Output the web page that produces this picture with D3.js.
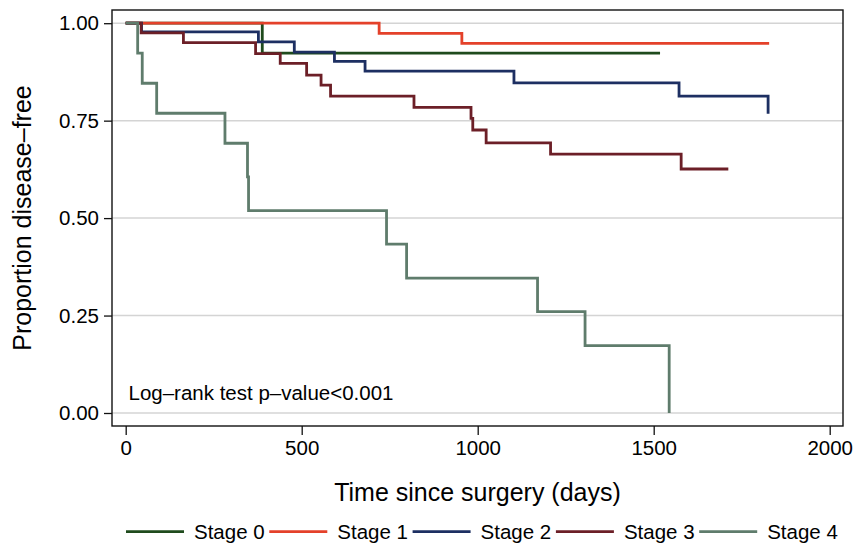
<!DOCTYPE html>
<html>
<head>
<meta charset="utf-8">
<script src="https://cdn.jsdelivr.net/npm/d3@7"></script>
<style>
  body { margin: 0; background: #fff; }
  text { font-family: "Liberation Sans", Arial, Helvetica, sans-serif; fill: #000; }
</style>
</head>
<body>
<div id="km"></div>
<script>
const width = 855
const height = 554

// Kaplan-Meier steps (day of event, proportion after it)
const stages = ["Stage 0", "Stage 1", "Stage 2", "Stage 3", "Stage 4"]

const stage0Days = [0, 388, 1518]
const stage0Surv = [1, 0.923, 0.923]

const stage1Days = [0, 720, 955, 1828]
const stage1Surv = [1, 0.974, 0.948, 0.948]

const stage2Days = [0, 45, 377, 479, 593, 680, 1103, 1572, 1825]
const stage2Surv = [1, 0.978, 0.952, 0.926, 0.902, 0.877, 0.847, 0.813, 0.768]

const stage3Days = [0, 44, 164, 369, 439, 514, 555, 582, 819, 981, 986, 1024, 1207, 1578, 1712]
const stage3Surv = [1, 0.975, 0.950, 0.922, 0.897, 0.867, 0.841, 0.813, 0.784, 0.756, 0.726, 0.693, 0.664, 0.626, 0.626]

const stage4Days = [0, 34, 47, 88, 282, 346, 349, 741, 798, 1170, 1305, 1544]
const stage4Surv = [1, 0.923, 0.846, 0.769, 0.692, 0.606, 0.519, 0.433, 0.346, 0.260, 0.173, 0]

const stageColors = ["#1f4b1d", "#e4412a", "#1d2f62", "#6c1f27", "#5f7c6c"]

const xTicks = [0, 500, 1000, 1500, 2000]
const yTicks = [0, 0.25, 0.5, 0.75, 1]

const annotation = "Log–rank test p–value<0.001"
const xTitle = "Time since surgery (days)"
const yTitle = "Proportion disease–free"

const series = stages.map((name, i) => {
    const days = [stage0Days, stage1Days, stage2Days, stage3Days, stage4Days][i]
    const surv = [stage0Surv, stage1Surv, stage2Surv, stage3Surv, stage4Surv][i]
    return {name: name, color: stageColors[i], points: days.map((d, j) => [d, surv[j]])}
})

// plot frame
const frame = {left: 112, right: 843, top: 10, bottom: 426}

const x = d3.scaleLinear().domain([0, 2000]).range([125.7, 829.7])
const y = d3.scaleLinear().domain([0, 1]).range([413, 23.2])

const svg = d3.select("#km")
  .append("svg")
  .attr("width", width)
  .attr("height", height)
  .attr("viewBox", [0, 0, width, height])

// gridlines
svg.append("g")
  .selectAll("line")
  .data(yTicks)
  .join("line")
    .attr("x1", frame.left)
    .attr("x2", frame.right)
    .attr("y1", d => y(d))
    .attr("y2", d => y(d))
    .attr("stroke", "#d4d4d4")
    .attr("stroke-width", 1.5)

// survival curves
const line = d3.line()
  .x(d => x(d[0]))
  .y(d => y(d[1]))
  .curve(d3.curveStepAfter)

svg.append("g")
  .selectAll("path")
  .data(series)
  .join("path")
    .attr("d", d => line(d.points))
    .attr("fill", "none")
    .attr("stroke", d => d.color)
    .attr("stroke-width", 2.8)

// frame box
svg.append("rect")
  .attr("x", frame.left)
  .attr("y", frame.top)
  .attr("width", frame.right - frame.left)
  .attr("height", frame.bottom - frame.top)
  .attr("fill", "none")
  .attr("stroke", "#111")
  .attr("stroke-width", 1.4)

// axes
const yAxis = svg.append("g")
  .attr("transform", `translate(${frame.left},0)`)
  .call(d3.axisLeft(y).tickValues(yTicks).tickFormat(d3.format(".2f")).tickSize(8).tickPadding(5))

const xAxis = svg.append("g")
  .attr("transform", `translate(0,${frame.bottom})`)
  .call(d3.axisBottom(x).tickValues(xTicks).tickFormat(d3.format("d")).tickSize(9).tickPadding(5))

for (const ax of [xAxis, yAxis]) {
    ax.select(".domain").remove()
    ax.selectAll(".tick line").attr("stroke", "#111").attr("stroke-width", 1.3)
    ax.selectAll(".tick text")
      .attr("font-family", "Liberation Sans, Arial, sans-serif")
      .attr("font-size", 20.5)
      .attr("fill", "#000")
}

// titles
svg.append("text")
  .attr("x", (frame.left + frame.right) / 2)
  .attr("y", 501)
  .attr("text-anchor", "middle")
  .attr("font-size", 25)
  .text(xTitle)

svg.append("text")
  .attr("transform", `translate(31,${(frame.top + frame.bottom) / 2}) rotate(-90)`)
  .attr("text-anchor", "middle")
  .attr("font-size", 25)
  .text(yTitle)

svg.append("text")
  .attr("x", 128.5)
  .attr("y", 399.5)
  .attr("font-size", 20.5)
  .text(annotation)

// legend
const legendX = d3.scaleBand().domain(stages).range([126, 126 + 5 * 143.3])

const legend = svg.append("g")
  .selectAll("g")
  .data(series)
  .join("g")
    .attr("transform", d => `translate(${legendX(d.name)},531.7)`)

legend.append("line")
  .attr("x1", 0)
  .attr("x2", 58)
  .attr("stroke", d => d.color)
  .attr("stroke-width", 2.8)

legend.append("text")
  .attr("x", 68)
  .attr("y", 7)
  .attr("font-size", 20.5)
  .text(d => d.name)
</script>
</body>
</html>
